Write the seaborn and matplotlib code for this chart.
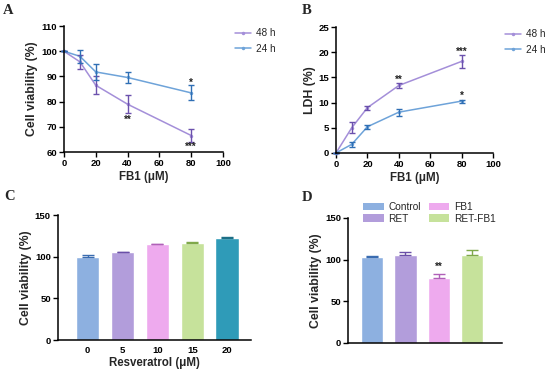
import matplotlib
matplotlib.use("Agg")
import matplotlib.pyplot as plt
import seaborn as sns
import pandas as pd
import numpy as np
from matplotlib.patches import Patch

sns.set_theme(style="ticks")
plt.rcParams['font.family'] = ['Liberation Sans', 'DejaVu Sans']
plt.rcParams['font.weight'] = 'bold'
plt.rcParams['axes.labelweight'] = 'bold'

# ---- data ----
dose = [0, 10, 20, 40, 80]
via48 = [100, 95.8, 86.5, 79.0, 66.6]
via48_err = [0, 2.8, 3.6, 3.5, 2.7]
via24 = [100, 98.0, 91.8, 89.6, 83.5]
via24_err = [0, 2.5, 3.0, 2.0, 3.0]

ldh48 = [0, 5.0, 9.0, 13.4, 18.2]
ldh48_err = [0, 1.1, 0.4, 0.4, 1.3]
ldh24 = [0, 1.7, 5.2, 8.1, 10.3]
ldh24_err = [0, 0.5, 0.4, 0.7, 0.3]

res_dose = ["0", "5", "10", "15", "20"]
res_via = [99.6, 105.2, 114.8, 116.8, 122.4]
res_err = [2.4, 1.0, 1.0, 0.6, 1.2]

groups = ["Control", "RET", "FB1", "RET-FB1"]
grp_via = [103.1, 105.1, 78.4, 105.3]
grp_err = [1.2, 4.0, 4.0, 6.0]

c48, c48e = "#a48fd9", "#6b51ad"
c24, c24e = "#6ea3d9", "#2f6fb5"
bar_c = ["#8db0e0", "#b29ddb", "#eeaaee", "#c6e29b", "#2f9bb8"]
bar_e = ["#3a6cb0", "#6a4fa8", "#b060b8", "#7fa84a", "#1d6f86"]
grp_c = ["#8db0e0", "#b29ddb", "#eeaaee", "#c6e29b"]
grp_e = ["#3a6cb0", "#6a4fa8", "#b060b8", "#7fa84a"]

fig = plt.figure(figsize=(5.5, 3.72), dpi=100)
axA = fig.add_axes([0.1164, 0.591, 0.289, 0.339])
axB = fig.add_axes([0.611, 0.589, 0.2855, 0.338])
axC = fig.add_axes([0.105, 0.086, 0.351, 0.336])
axD = fig.add_axes([0.633, 0.078, 0.28, 0.336])

tick_fs = 6.8
xlab_fs = 8.3
ylab_fs = 8.8

def style(ax):
    sns.despine(ax=ax)
    for s in ['left', 'bottom']:
        ax.spines[s].set_linewidth(1.1)
        ax.spines[s].set_color('black')
    ax.tick_params(direction='out', length=3.5, width=1.0, labelsize=tick_fs, pad=1.5, colors='black')
    for lab in ax.get_xticklabels() + ax.get_yticklabels():
        lab.set_fontweight('bold')

def line_panel(ax, y48, e48, y24, e24, ylim, yticks, ylabel):
    df = pd.DataFrame({"dose": dose * 2, "val": y48 + y24,
                       "grp": ["48 h"] * 5 + ["24 h"] * 5})
    sns.lineplot(data=df, x="dose", y="val", hue="grp", palette={"48 h": c48, "24 h": c24},
                 marker="o", markersize=2.5, markeredgewidth=0, linewidth=1.1, ax=ax,
                 errorbar=None)
    ax.errorbar(dose, y48, yerr=e48, fmt='none', ecolor=c48e, elinewidth=1.0, capsize=2, capthick=1.0)
    ax.errorbar(dose, y24, yerr=e24, fmt='none', ecolor=c24e, elinewidth=1.0, capsize=2, capthick=1.0)
    ax.set_xlim(0, 100)
    ax.set_ylim(*ylim)
    ax.set_xticks([0, 20, 40, 60, 80, 100])
    ax.set_yticks(yticks)
    ax.set_xlabel("FB1 (μM)", fontsize=xlab_fs, fontweight='bold', labelpad=2)
    ax.set_ylabel(ylabel, fontsize=ylab_fs, fontweight='bold', labelpad=2)
    leg = ax.legend(loc='upper left', bbox_to_anchor=(1.04, 1.03), frameon=False,
                    fontsize=7.2, handlelength=1.6, labelspacing=0.55, handletextpad=0.5,
                    borderaxespad=0.2)
    for t in leg.get_texts():
        t.set_fontweight('normal')
    style(ax)
    for l in ax.lines:
        l.set_clip_on(False)

line_panel(axA, via48, via48_err, via24, via24_err, (60, 110), [60, 70, 80, 90, 100, 110],
           "Cell viability (%)")
line_panel(axB, ldh48, ldh48_err, ldh24, ldh24_err, (0, 25), [0, 5, 10, 15, 20, 25], "LDH (%)")

star_kw = dict(ha='center', va='center', fontsize=7, fontweight='bold', color='#222222')
axA.text(80, 87.6, "*", **star_kw)
axA.text(40, 73.0, "**", **star_kw)
axA.text(80, 62.3, "***", **star_kw)
axB.text(40, 14.6, "**", **star_kw)
axB.text(80, 20.0, "***", **star_kw)
axB.text(80, 11.3, "*", **star_kw)

# ---- C ----
dfC = pd.DataFrame({"dose": res_dose, "val": res_via})
sns.barplot(data=dfC, x="dose", y="val", hue="dose", palette=bar_c, legend=False,
            width=0.67, ax=axC, errorbar=None, saturation=1)
for i, (v, e) in enumerate(zip(res_via, res_err)):
    axC.errorbar(i, v, yerr=[[0], [e]], fmt='none', ecolor=bar_e[i], elinewidth=1.0,
                 capsize=4, capthick=1.0)
axC.set_xlim(-0.86, 4.68)
axC.set_ylim(0, 150)
axC.set_yticks([0, 50, 100, 150])
axC.set_xlabel("Resveratrol (μM)", fontsize=xlab_fs, fontweight='bold', labelpad=2)
axC.set_ylabel("Cell viability (%)", fontsize=ylab_fs, fontweight='bold', labelpad=2)
style(axC)
axC.tick_params(axis='x', length=0, pad=4)

# ---- D ----
dfD = pd.DataFrame({"grp": groups, "val": grp_via})
sns.barplot(data=dfD, x="grp", y="val", hue="grp", palette=grp_c, legend=False,
            width=0.67, ax=axD, errorbar=None, saturation=1)
for i, (v, e) in enumerate(zip(grp_via, grp_err)):
    axD.errorbar(i, v, yerr=[[0], [e]], fmt='none', ecolor=grp_e[i], elinewidth=1.0,
                 capsize=4, capthick=1.0)
axD.set_xlim(-0.72, 3.9)
axD.set_ylim(0, 150)
axD.set_yticks([0, 50, 100, 150])
axD.set_xticks([])
axD.set_xlabel("")
axD.set_ylabel("Cell viability (%)", fontsize=ylab_fs, fontweight='bold', labelpad=2)
axD.text(2, 91, "**", **star_kw)
handles = [Patch(facecolor=c, edgecolor='none') for c in grp_c]
legD = axD.legend(handles, groups, ncol=2, loc='upper left', bbox_to_anchor=(0.04, 1.2),
                  frameon=False, fontsize=7.3, handlelength=2.0, handleheight=0.8,
                  labelspacing=0.15, columnspacing=0.8, handletextpad=0.45)
for t in legD.get_texts():
    t.set_fontweight('normal')
style(axD)

# panel letters
for lab, x, y in [("A", 0.006, 0.972), ("B", 0.549, 0.972), ("C", 0.008, 0.472), ("D", 0.549, 0.470)]:
    fig.text(x, y, lab, fontsize=10.5, fontweight='bold', family=['Liberation Serif', 'DejaVu Serif'],
             ha='left', va='center')

fig.savefig("out.png", dpi=100)
